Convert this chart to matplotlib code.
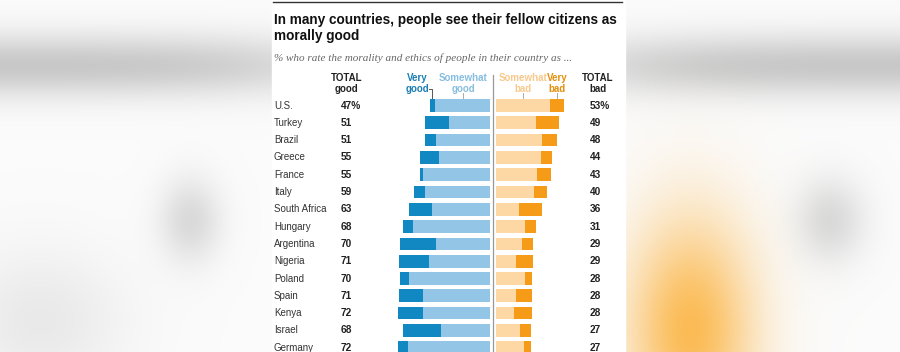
import numpy as np
import matplotlib
matplotlib.use("Agg")
import matplotlib.pyplot as plt
from matplotlib.patches import Rectangle

countries = ["U.S.", "Turkey", "Brazil", "Greece", "France", "Italy", "South Africa",
             "Hungary", "Argentina", "Nigeria", "Poland", "Spain", "Kenya", "Israel", "Germany"]
very_good = [4, 19, 9, 15, 3, 8, 18, 8, 28, 23, 7, 19, 20, 30, 8]
somewhat_good = [43, 32, 42, 40, 52, 51, 45, 60, 42, 48, 63, 52, 52, 38, 64]
somewhat_bad = [42, 31, 36, 35, 32, 30, 18, 23, 20, 16, 23, 16, 14, 19, 22]
very_bad = [11, 18, 12, 9, 11, 10, 18, 8, 9, 13, 5, 12, 14, 8, 5]
total_good = [47, 51, 51, 55, 55, 59, 63, 68, 70, 71, 70, 71, 72, 68, 72]
total_bad = [53, 49, 48, 44, 43, 40, 36, 31, 29, 29, 28, 28, 28, 27, 27]

c_vgood = "#1288c3"
c_sgood = "#93c5e6"
c_sbad = "#fdd7a4"
c_vbad = "#f59b18"

W, H = 900, 352
fig = plt.figure(figsize=(9, 3.52), dpi=100)

# blurred backdrop around the chart
yy, xx = np.mgrid[0:H, 0:W]
def blob(cx, cy, sx, sy):
    return np.exp(-((xx - cx) ** 2 / (2 * sx ** 2) + (yy - cy) ** 2 / (2 * sy ** 2)))
shade = 0.2 * np.exp(-((yy - 65) ** 2) / (2 * 22 ** 2)) * (1 - blob(450, 65, 120, 400))
shade += 0.13 * blob(190, 220, 22, 30) + 0.13 * blob(830, 220, 25, 30)
shade += 0.07 * blob(40, 320, 60, 50)
img = np.ones((H, W, 3)) * 0.985
img -= shade[..., None]
orange = blob(690, 330, 45, 80)
img[..., 1] -= 0.25 * orange
img[..., 2] -= 0.65 * orange
img = np.clip(img, 0, 1)

bg = fig.add_axes([0, 0, 1, 1])
bg.imshow(img, extent=[0, W, H, 0], aspect="auto")
bg.set_xlim(0, W)
bg.set_ylim(H, 0)
bg.axis("off")
bg.add_patch(Rectangle((272, 0), 353, H, color="white", zorder=2))
bg.plot([273, 622], [2, 2], color="#333333", lw=1, zorder=3)
bg.text(274, 28, "In many countries, people see their fellow citizens as\nmorally good",
        fontsize=9.8, fontweight="bold", family="Liberation Sans", color="#111111",
        va="center", ha="left", linespacing=1.25, zorder=3)
bg.text(274, 58, "% who rate the morality and ethics of people in their country as ...",
        fontsize=8, style="italic", family="Liberation Serif", color="#666666",
        va="center", ha="left", zorder=3)

# bar panel: x in percent, 0 at the divider
px = 1.28
div = 493
gap = 3 / px
ax = fig.add_axes([272 / W, 0, 353 / W, 1])
ax.set_xlim((272 - div) / px, (625 - div) / px)
step = 17.3
y0 = 105.5
ax.set_ylim((H - y0) / step, -y0 / step)
ax.axis("off")
ax.patch.set_alpha(0)

ypos = np.arange(len(countries))
bh = 0.73
vg = np.array(very_good)
sg = np.array(somewhat_good)
sb = np.array(somewhat_bad)
vb = np.array(very_bad)
ax.barh(ypos, -sg, left=-gap, height=bh, color=c_sgood)
ax.barh(ypos, -vg, left=-gap - sg, height=bh, color=c_vgood)
ax.barh(ypos, sb, left=gap, height=bh, color=c_sbad)
ax.barh(ypos, vb, left=gap + sb, height=bh, color=c_vbad)

ax.plot([0, 0], [(75 - y0) / step, (H - y0) / step], color="#999999", lw=0.9)

font = "Liberation Sans"
for i, name in enumerate(countries):
    ax.text((274 - div) / px, i, name, fontsize=7, family=font, color="#333333",
            va="center", ha="left")
    sfx = "%" if i == 0 else ""
    ax.text((341 - div) / px, i, f"{total_good[i]}{sfx}", fontsize=7.3, family=font,
            fontweight="bold", color="#222222", va="center", ha="left")
    ax.text((590 - div) / px, i, f"{total_bad[i]}{sfx}", fontsize=7.3, family=font,
            fontweight="bold", color="#222222", va="center", ha="left")

hy = (83.5 - y0) / step
hdr = dict(fontsize=7, family=font, fontweight="bold", va="center", ha="center",
           linespacing=1.1)
ax.text((346.7 - div) / px, hy, "TOTAL\ngood", color="#222222", **hdr)
ax.text((598 - div) / px, hy, "TOTAL\nbad", color="#222222", **hdr)
ax.text((417 - div) / px, hy, "Very\ngood", color="#1a7db3", **hdr)
ax.text((463 - div) / px, hy, "Somewhat\ngood", color="#86bde0", **hdr)
ax.text((523 - div) / px, hy, "Somewhat\nbad", color="#f8c98c", **hdr)
ax.text((557 - div) / px, hy, "Very\nbad", color="#e38f0c", **hdr)

# leader ticks from headers to the first row
top = (98 - y0) / step
ax.plot([(429 - div) / px, (432 - div) / px, (432 - div) / px],
        [(89 - y0) / step, (89 - y0) / step, top], color="#555555", lw=0.7)
for xp in [463, 523, 557]:
    ax.plot([(xp - div) / px] * 2, [(93 - y0) / step, top], color="#aaaaaa", lw=0.7)

fig.savefig("out.png", dpi=100)
